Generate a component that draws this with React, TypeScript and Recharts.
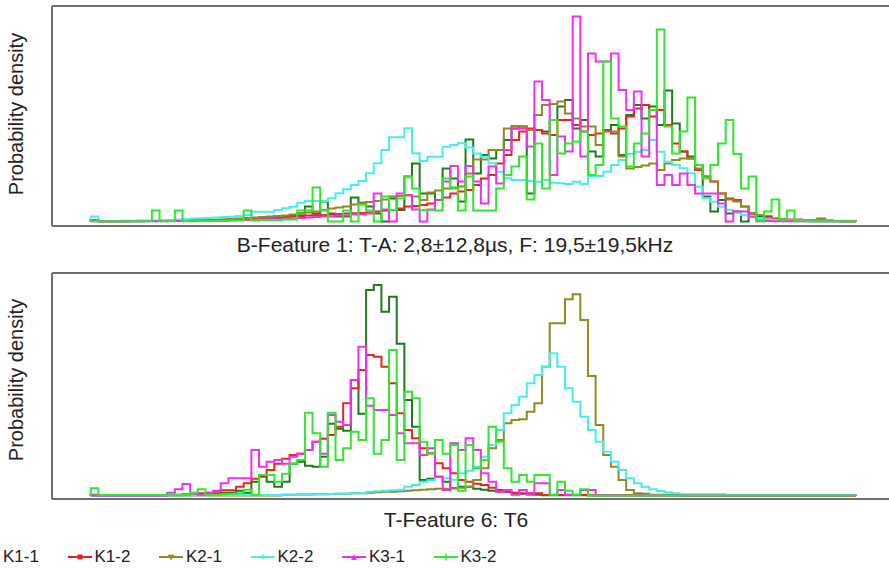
import { LineChart, Line, XAxis, YAxis, ReferenceLine } from "recharts";

// series order = legend order, later ones drawn on top
const SERIES = ["K1-1", "K1-2", "K2-1", "K2-2", "K3-1", "K3-2"];
const COLORS = ["#1f7a1f", "#e8261c", "#8f8a22", "#44eeee", "#f030f0", "#2ee82e"];
const MARKERS = ["circle", "square", "down", "diamond", "up", "plus"];

const TOP_TITLE = "B-Feature 1: T-A: 2,8±12,8µs, F: 19,5±19,5kHz";
const BOTTOM_TITLE = "T-Feature 6: T6";
const Y_LABEL = "Probability density";

// 100 histogram bins per panel, relative density
const TOP_K11 = [
  1, 0.3, 0.3, 0.3, 0.3, 0.3, 0.3, 0.5, 0.5, 0.5, 0.5, 0.8, 0.8, 1, 1, 1.2, 1.5, 1.5, 2, 2.5,
  2, 3, 3.5, 3, 4, 5, 6, 8, 15, 8, 20, 8, 5, 5, 24, 18, 15, 8, 0, 23,
  11.5, 45, 58, 28, 28, 21.5, 53, 43, 20, 82, 48, 66.5, 63, 71.5, 81.5, 93, 95, 28, 91.5, 90,
  101.5, 115, 121.5, 93, 101.5, 70, 65, 91.5, 96.5, 66.5, 106.5, 116.5, 103, 115, 96.5, 131, 98, 70, 65, 56.5,
  25, 10, 21.5, 8, 10, 0, 8, 5, 5, 2, 1.5, 1, 1, 0.5, 0.3, 0.3, 0.3, 0.3, 0.3, 0.3,
];
const TOP_K12 = [
  1.5, 0.3, 0.3, 0.3, 0.3, 0.4, 0.4, 0.5, 0.5, 0.6, 0.7, 0.8, 0.9, 1, 1.2, 1.4, 1.6, 1.8, 2, 2.2,
  2.5, 3, 3.2, 3.5, 4, 4.5, 5, 5.5, 6, 6.3, 6.5, 7, 7.5, 8, 8.2, 8.5, 9, 10, 11, 11.5,
  13, 15, 15.5, 16.5, 18, 21.5, 24, 28, 30, 31.5, 36.5, 43, 46.5, 58, 66.5, 81.5, 90, 93, 91.5, 88,
  86.5, 101.5, 101.5, 96.5, 90, 86.5, 88, 91.5, 88, 93, 105, 113, 116.5, 105, 111.5, 96.5, 78, 70, 63, 51.5,
  45, 40, 28, 23, 21.5, 15, 8, 6.5, 5, 3, 2.5, 2, 2, 1.5, 1.5, 3, 1, 0.5, 0.3, 0.2,
];
const TOP_K21 = [
  1.5, 0.3, 0.3, 0.3, 0.3, 0.4, 0.4, 0.5, 0.6, 0.7, 0.8, 0.9, 1, 1.2, 1.4, 1.6, 1.8, 2, 2.5, 3,
  3.5, 4, 4.5, 5, 5.5, 6, 7, 8, 9, 10, 11.5, 13, 14, 15, 17, 19, 19.5, 20.5, 22, 25,
  25.5, 26.5, 25, 21.5, 29, 31, 33, 34, 35, 48, 62, 62, 71.5, 71.5, 93, 95.5, 95, 91.5, 106.5, 116.5,
  117.5, 120, 108, 103, 95, 95, 76.5, 90, 90, 65, 53, 54.5, 56, 58, 51.5, 58, 61.5, 63, 63, 53,
  45, 40, 28, 22, 20, 15, 8, 6.5, 3, 2, 2, 1.5, 1.5, 1, 1.5, 2.5, 1, 0.5, 0.3, 0.2,
];
const TOP_K22 = [
  5, 0.5, 0.5, 0.5, 0.7, 0.7, 1, 1, 1.2, 1.5, 1.5, 2, 2.5, 3, 3.2, 3.5, 4, 4.5, 4.8, 5.5,
  6.5, 9.8, 9.8, 9.8, 11.5, 13.2, 14.8, 18.8, 20.5, 20.5, 20.5, 23.2, 28.2, 32.2, 36.5, 40.5, 48.2, 58.2, 71.5, 84.2,
  84.2, 93.2, 68.2, 60.5, 64.8, 64.8, 74.8, 76.5, 78.2, 74, 68, 64.8, 58.2, 49.8, 43.2, 41.5, 41.5, 40.5, 39.8, 41.5,
  38.8, 38.2, 37.5, 39.8, 37.5, 45.5, 45.5, 49.8, 56.5, 61.5, 67.5, 69.8, 71.5, 81.5, 69.8, 59.8, 56.5, 53.2, 48.2, 34.8,
  23.2, 19.8, 14.8, 11.5, 8.8, 6.5, 4.2, 3.2, 2.2, 1.5, 1.2, 1, 1, 1, 0.8, 0.8, 0.8, 0.7, 0.7, 0.7,
];
const TOP_K31 = [
  0.3, 0.3, 0.3, 0.3, 0.3, 0.3, 0.3, 0.3, 0.3, 0.3, 0.5, 0.5, 0.5, 0.5, 0.8, 0.8, 1, 1, 1.2, 1.5,
  1.5, 2, 2, 2.5, 2.5, 3, 3, 3.5, 4, 4.5, 5, 5, 6, 6, 7, 7, 8, 28, 12, 0,
  28, 26, 12, 0, 12, 21.5, 40, 55.5, 40, 55.5, 40, 18, 55, 38, 71.5, 93, 93, 75, 140, 121.5,
  46.5, 85, 70, 205, 65, 168, 160, 160, 168, 131.5, 111.5, 130, 65, 111.5, 36.5, 46.5, 36.5, 48, 36.5, 28,
  28, 28, 18, 0, 10, 10, 5, 1, 0.5, 0.3, 0.3, 0.3, 0.3, 0.3, 0.3, 0.3, 0.3, 0.3, 0.3, 0.3,
];
const TOP_K32 = [
  0.3, 0.3, 0.3, 0.3, 0.3, 0.3, 0.3, 0.3, 11, 0.3, 0.3, 11, 0.3, 0.3, 0.5, 0.5, 0.5, 0.5, 1, 1,
  11, 1, 1.5, 1.5, 1.5, 2, 2, 11, 11, 34, 11, 0, 0, 11, 0, 17, 11, 0, 25, 11.5,
  23, 45, 33, 11.5, 11.5, 11, 43, 33, 11, 45, 11, 11, 11, 33, 46.5, 55, 65, 22, 78, 33,
  101.5, 68, 78, 80, 90, 46.5, 56.5, 160, 103, 95, 55, 78, 88, 111.5, 192, 95, 68, 90, 124, 56.5,
  43, 56.5, 78, 101.5, 67.5, 33, 45, 0, 10, 22, 2, 11, 0.3, 0.3, 0.3, 0.3, 0.3, 0.3, 0.3, 0.3,
];

const BOT_K11 = [
  0.5, 0.3, 0.3, 0.3, 0.3, 0.3, 0.3, 0.3, 0.3, 0.5, 0.5, 0.5, 0.8, 1, 1, 1.5, 2, 3, 3, 5,
  3, 14, 19, 14, 9, 14, 32, 34, 30, 29, 39, 72, 67, 65, 115.7, 82, 205.7, 210.7, 184, 199,
  152, 95.7, 69, 15.7, 17, 19, 14, 7.5, 9, 9, 7, 6, 5, 4, 4, 3, 2, 1.5, 1, 0.5,
  0.5, 0.5, 0.5, 0.5, 0.5, 0.3, 0.3, 0.3, 0.3, 0.3, 0.3, 0.3, 0.3, 0.3, 0.3, 0.3, 0.3, 0.3, 0.3, 0.3,
  0, 0, 0, 0, 0, 0, 0, 0, 0, 0, 0, 0, 0, 0, 0, 0, 0, 0, 0, 0,
];
const BOT_K12 = [
  1, 0.3, 0.3, 0.3, 0.3, 0.3, 0.3, 0.3, 0.5, 0.5, 0.8, 1, 1.5, 2, 2.5, 3, 4, 5.5, 5.5, 9,
  12.4, 17, 20, 25.7, 32, 37, 40.7, 42, 45.7, 54, 57, 60.7, 69, 92.4, 107.4, 125.7, 140.7, 139, 129, 112.4,
  82.4, 65.7, 57.4, 47.4, 42.4, 32.4, 27.4, 22.4, 15.7, 14, 12, 10.7, 8, 5.7, 4, 2.4, 2.4, 2.4, 2.4, 0.7,
  0.7, 0.7, 0.7, 0.7, 0.7, 0.7, 0.7, 0.7, 0.7, 0.7, 0.7, 0.7, 0.7, 0.7, 0.7, 0.7, 0.7, 0.7, 0.7, 0.3,
  0.3, 0.3, 0.3, 0.3, 0.3, 0.3, 0.3, 0.3, 0.3, 0.3, 0.3, 0.3, 0.3, 0.3, 0.3, 0.3, 0.3, 0.3, 0.3, 0.3,
];
const BOT_K21 = [
  0.3, 0.3, 0.3, 0.3, 0.3, 0.3, 0.3, 0.3, 0.3, 0.3, 0.3, 0.3, 0.3, 0.3, 0.3, 0.3, 0.3, 0.3, 0.3, 0.3,
  0.3, 0.3, 0.3, 0.3, 0.3, 1, 1, 1.2, 1.2, 1.5, 1.5, 1.8, 2, 2, 2.5, 2.5, 3, 3.5, 4, 4,
  4.5, 5, 5.5, 6, 6.5, 7, 7, 7.5, 8, 9, 15.7, 27.4, 47.4, 55.7, 72.4, 75.7, 76.4, 84, 92.4, 129,
  172.4, 172.4, 196.4, 201.4, 175.7, 119.7, 70.7, 40.7, 29, 15.7, 5.7, 2.4, 2, 1, 1, 1, 1, 0.3, 0.3, 0.3,
  0.3, 0.3, 0.3, 0.3, 0.3, 0.3, 0.3, 0.3, 0.3, 0.3, 0.3, 0.3, 0.3, 0.3, 0.3, 0.3, 0.3, 0.3, 0.3, 0.3,
];
const BOT_K22 = [
  0.3, 0.3, 0.3, 0.3, 0.3, 0.3, 0.3, 0.3, 0.3, 0.3, 0.5, 0.5, 0.5, 0.5, 0.5, 0.5, 0.7, 0.7, 0.7, 0.7,
  0.7, 0.7, 0.7, 0.7, 0.7, 1, 1, 1.2, 1.2, 1.5, 1.5, 1.8, 2, 2, 2.5, 2.5, 4, 4.5, 5, 5.5,
  6, 9, 10.7, 14, 15.5, 19, 17.5, 16, 22.4, 25, 29, 39, 50.7, 65.7, 82.4, 90.7, 99, 112.4, 120.7, 129,
  142.4, 129, 107.4, 94, 79, 65.7, 54, 44, 34, 25.7, 17.4, 12.4, 9, 6.4, 4.7, 3.4, 2.4, 1.5, 1.5, 1.5,
  1.5, 1.5, 1.5, 0.7, 0.7, 0.7, 0.7, 0.7, 0.7, 0.7, 0.7, 0.7, 0.7, 0.7, 0.7, 0.7, 0.7, 0.7, 0.7, 0.7,
];
const BOT_K31 = [
  0.3, 0.3, 0.3, 0.3, 0.3, 0.3, 0.3, 0.3, 0.3, 0.3, 3, 6.4, 11.7, 2, 1, 3, 5, 12.4, 17.4, 17.4,
  17.4, 45.7, 29, 34, 35.7, 32, 39, 42, 45.7, 54, 42, 80.7, 74, 70.7, 115.7, 149, 90, 85.7, 85.7, 80.7,
  62.4, 52.4, 52.4, 40.7, 47.4, 19, 5.7, 52.4, 45.7, 57.4, 45.7, 22.4, 14, 4, 5.7, 1, 5.7, 1, 12.4, 12.4,
  1, 5.7, 1, 1, 5.7, 5.7, 0.3, 0.3, 0.3, 0.3, 0.3, 0.3, 0.3, 0.3, 0.3, 0.3, 0.3, 0.3, 0.3, 0.3,
  0.3, 0.3, 0.3, 0.3, 0.3, 0.3, 0.3, 0.3, 0.3, 0.3, 0.3, 0.3, 0.3, 0.3, 0.3, 0.3, 0.3, 0.3, 0.3, 0.3,
];
const BOT_K32 = [
  7.4, 0.7, 0.7, 0.7, 0.7, 0.7, 0.7, 0.7, 0.7, 0.7, 0.7, 0.7, 0.7, 3, 6.4, 0.7, 1, 1.5, 2, 2.5,
  6, 1, 20.7, 20.7, 14, 22, 32, 35.7, 83, 62.4, 29, 83, 35.7, 47.4, 64, 55.7, 97.4, 42, 55.7, 145.7,
  35.7, 104, 97.4, 54, 42, 55.7, 42, 50.7, 5, 50.7, 27.4, 35.7, 69, 54, 27.4, 14, 20.7, 14, 20.7, 20.7,
  1, 14, 5, 1, 6.4, 0.3, 0.3, 0.3, 0.3, 0.3, 0.3, 0.3, 0.3, 0.3, 0.3, 0.3, 0.3, 0.3, 0.3, 0.3,
  0.3, 0.3, 0.3, 0.3, 0.3, 0.3, 0.3, 0.3, 0.3, 0.3, 0.3, 0.3, 0.3, 0.3, 0.3, 0.3, 0.3, 0.3, 0.3, 0.3,
];

const TOP = [TOP_K11, TOP_K12, TOP_K21, TOP_K22, TOP_K31, TOP_K32];
const BOTTOM = [BOT_K11, BOT_K12, BOT_K21, BOT_K22, BOT_K31, BOT_K32];

const FONT = "'Liberation Sans', Arial, sans-serif";
const FRAME = "#6e6e6e";
const X_DOMAIN: [number, number] = [-5.06, 104.35];

// stairs: rise from 0 at the first bin edge, drop back to 0 after the last bin
function toSteps(cols: number[][]) {
  const n = cols[0].length;
  const row = (x: number, get: (k: number) => number) => {
    const r: Record<string, number> = { x };
    SERIES.forEach((s, k) => (r[s] = get(k)));
    return r;
  };
  const rows = [row(0, () => 0)];
  for (let i = 0; i < n; i++) rows.push(row(i, (k) => cols[k][i]));
  rows.push(row(n, (k) => cols[k][n - 1]));
  rows.push(row(n, () => 0));
  return rows;
}

function Panel({ cols, height, yDomain }: { cols: number[][]; height: number; yDomain: [number, number] }) {
  const data = toSteps(cols);
  return (
    <LineChart width={889} height={height} data={data} margin={{ top: 6, right: 0, bottom: 6, left: 52 }}>
      <XAxis type="number" dataKey="x" domain={X_DOMAIN} hide allowDataOverflow />
      <YAxis type="number" domain={yDomain} hide allowDataOverflow />
      <ReferenceLine y={yDomain[1]} stroke={FRAME} strokeWidth={2} />
      <ReferenceLine y={yDomain[0]} stroke={FRAME} strokeWidth={2} />
      <ReferenceLine x={X_DOMAIN[0]} stroke={FRAME} strokeWidth={2} />
      {SERIES.map((s, k) => (
        <Line
          key={s}
          dataKey={s}
          type="stepAfter"
          stroke={COLORS[k]}
          strokeWidth={2}
          dot={false}
          isAnimationActive={false}
        />
      ))}
    </LineChart>
  );
}

function Marker({ kind, color }: { kind: string; color: string }) {
  if (kind === "square") return <rect x={9.5} y={2.5} width={5} height={5} fill={color} />;
  if (kind === "down") return <polygon points="9,3 15,3 12,8" fill={color} stroke={color} strokeWidth={0.5} />;
  if (kind === "up") return <polygon points="9,8 15,8 12,2" fill={color} />;
  if (kind === "diamond") return <polygon points="12,2.5 14.5,5 12,7.5 9.5,5" fill={color} />;
  if (kind === "plus")
    return <path d="M12 1.5 V8.5 M8.5 5 H15.5" stroke={color} strokeWidth={1.5} />;
  return <circle cx={12} cy={5} r={2.5} fill={color} />;
}

const rotated = (top: number) => ({
  position: "absolute" as const,
  left: 16,
  top,
  transform: "translate(-50%, -50%) rotate(-90deg)",
  whiteSpace: "nowrap" as const,
  fontSize: 20,
  color: "#222",
});

const centered = (left: number, top: number) => ({
  position: "absolute" as const,
  left,
  top,
  transform: "translate(-50%, -50%)",
  whiteSpace: "nowrap" as const,
  fontSize: 21,
  color: "#222",
});

export default function App() {
  return (
    <div
      style={{
        position: "absolute",
        left: 0,
        top: 0,
        width: 889,
        height: 568,
        overflow: "hidden",
        background: "#fff",
        fontFamily: FONT,
      }}
    >
      <div style={{ position: "absolute", left: 0, top: 0 }}>
        <Panel cols={TOP} height={232} yDomain={[-4.5, 215.5]} />
      </div>
      <div style={{ position: "absolute", left: 0, top: 267 }}>
        <Panel cols={BOTTOM} height={238} yDomain={[-3.3, 222.7]} />
      </div>

      <div style={rotated(114)}>{Y_LABEL}</div>
      <div style={rotated(380)}>{Y_LABEL}</div>
      <div style={centered(455, 245)}>{TOP_TITLE}</div>
      <div style={centered(456, 520)}>{BOTTOM_TITLE}</div>

      {SERIES.map((s, k) => {
        const x0 = -24 + 91.5 * k;
        return (
          <div key={s}>
            <svg style={{ position: "absolute", left: x0, top: 552 }} width={24} height={10}>
              <line x1={0} y1={5} x2={24} y2={5} stroke={COLORS[k]} strokeWidth={2} />
              <Marker kind={MARKERS[k]} color={COLORS[k]} />
            </svg>
            <div
              style={{
                position: "absolute",
                left: x0 + 27,
                top: 557,
                transform: "translateY(-50%)",
                fontSize: 17,
                color: "#222",
                whiteSpace: "nowrap",
              }}
            >
              {s}
            </div>
          </div>
        );
      })}
    </div>
  );
}
